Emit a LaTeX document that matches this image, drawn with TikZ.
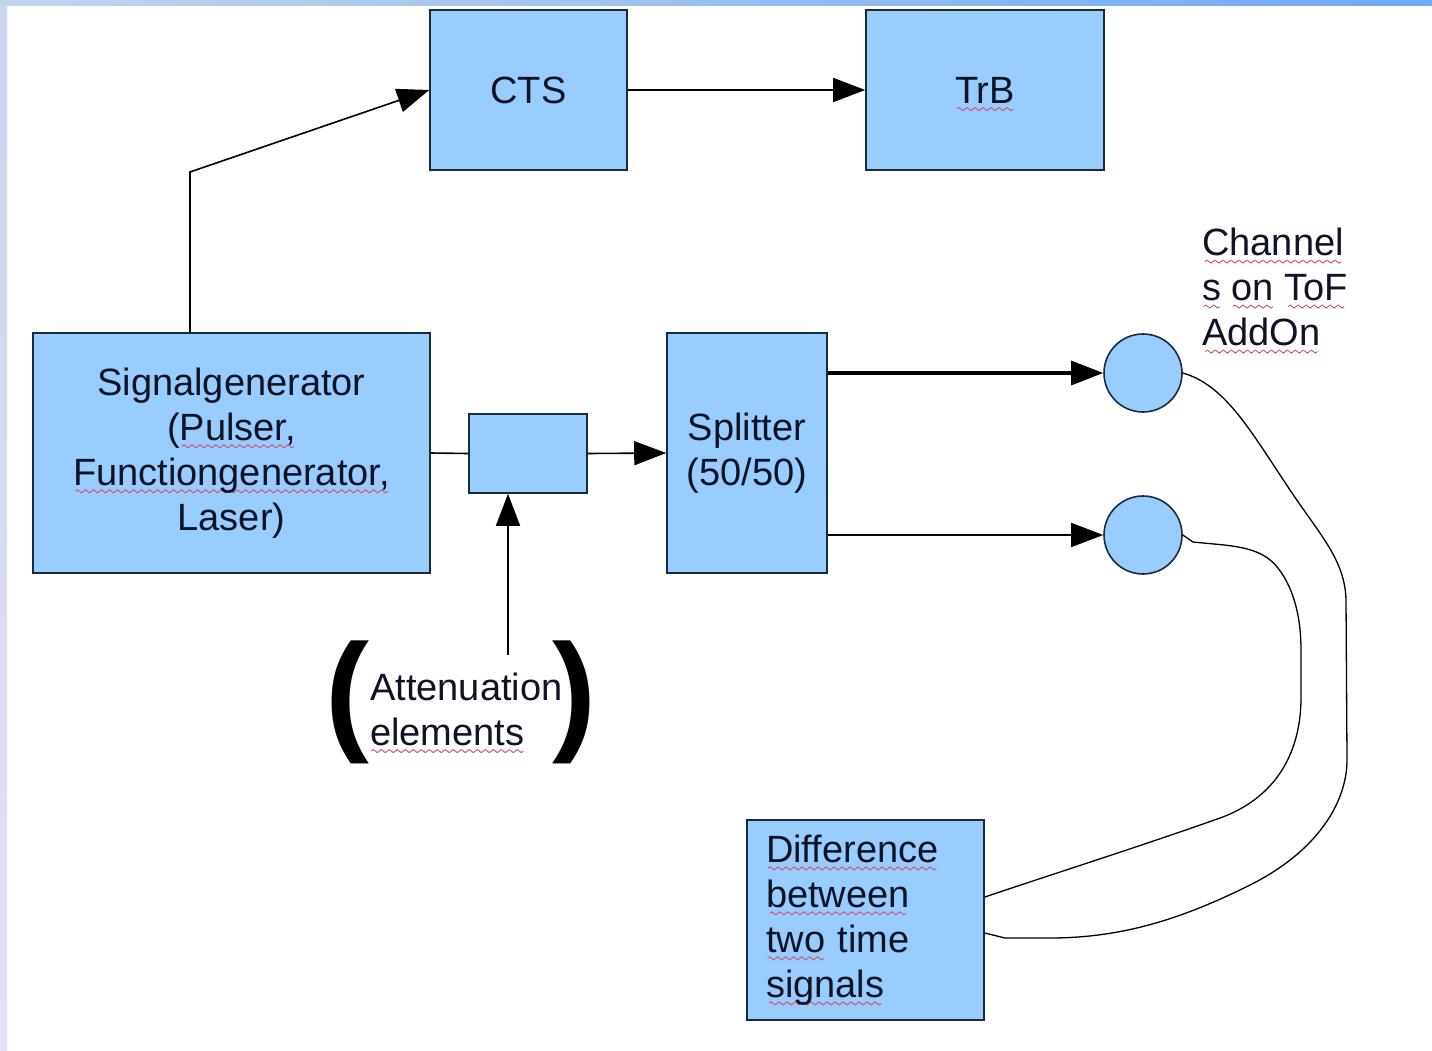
\documentclass[tikz,border=0pt]{standalone}
\usepackage{fontspec}
\setmainfont{Liberation Sans}
\usetikzlibrary{arrows.meta}
\definecolor{boxblue}{HTML}{99CCFF}
\definecolor{edge}{HTML}{1B2A3C}
\definecolor{ink}{HTML}{0E1426}
\definecolor{spell}{HTML}{D0506E}
\definecolor{bandL}{HTML}{C4D4EC}
\definecolor{bandR}{HTML}{6EA8F6}
\definecolor{sideT}{HTML}{C8D6EE}
\definecolor{sideB}{HTML}{E6E1F4}
\newsavebox\sqbox
\newcommand\wavemark{\tikz[baseline=0pt]{\useasboundingbox (0pt,0pt) rectangle (8pt,0pt);\draw[spell,line width=0.9pt] (0pt,-6pt) sin (2pt,-4.5pt) cos (4pt,-6pt) sin (6pt,-7.5pt) cos (8pt,-6pt);}}
\newcommand\sq[1]{\leavevmode\sbox\sqbox{#1}\rlap{\hbox to \wd\sqbox{\cleaders\hbox{\wavemark}\hfill}}\usebox\sqbox}
\begin{document}
\begin{tikzpicture}[x=1pt,y=-1pt,
  box/.style={draw=edge, line width=1.6pt, fill=boxblue, text=ink, font=\fontsize{38}{45}\selectfont, inner sep=0pt, align=center},
  lbl/.style={text=ink, font=\fontsize{38}{45}\selectfont, inner sep=0pt, align=left},
  paren/.style={text=black, font=\bfseries\fontsize{132}{132}\selectfont, inner sep=0pt},
  conn/.style={line width=1.6pt, draw=black},
  arr/.style={conn, -{Triangle[length=32pt,width=24pt]}},
  cable/.style={line width=1.3pt, draw=black}]
\useasboundingbox (0,0) rectangle (1432,1051);
\fill[white] (0,0) rectangle (1432,1051);
\shade[left color=bandL, right color=bandR] (0,0) rectangle (1432,6);
\shade[top color=sideT, bottom color=sideB] (0,6) rectangle (7,1051);

\node[box, minimum width=197, minimum height=160] (cts) at (528.5,90) {CTS};
\node[box, minimum width=238, minimum height=160] (trb) at (985,90) {\sq{TrB}};
\node[box, minimum width=397, minimum height=240] (sig) at (231.5,453) {Signalgenerator\\(\sq{Pulser,}\\\sq{Functiongenerator,}\\Laser)};
\node[box, minimum width=118, minimum height=79] (att) at (528,453.5) {};
\node[box, minimum width=160, minimum height=240] (spl) at (747,453) {Splitter\\(50/50)};
\node[box, circle, minimum size=78] (ch1) at (1143,373) {};
\node[box, circle, minimum size=78] (ch2) at (1143,535) {};
\node[box, minimum width=237, minimum height=200, text width=199, inner xsep=19, align=left] (diff) at (865.5,920) {\sq{Difference}\\\sq{between}\\\sq{two} time\\\sq{signals}};

\node[lbl, anchor=west] (chl) at (1202,287) {\sq{Channel}\\\sq{s} \sq{on} \sq{ToF}\\\sq{AddOn}};
\node[lbl, anchor=west] (attl) at (370,709) {Attenuation\\\sq{elements}};
\node[paren] (lp) at (347,702) {(};
\node[paren] (rp) at (574,702) {)};

\coordinate (bend) at (190,172);
\coordinate (attin) at (508,655);

\draw[arr] (sig.north -| bend) -- (bend) -- (cts.west);
\draw[arr] (cts.east) -- (trb.west);
\draw[conn] (sig.east) -- (att.west);
\draw[arr] (att.east) -- (spl.west);
\draw[arr, line width=3.2pt] (ch1.west -| spl.east) -- (ch1.west);
\draw[arr] (ch2.west -| spl.east) -- (ch2.west);
\draw[arr] (attin) -- (att.south -| attin);

\draw[cable] (ch1.east) .. controls (1225,385) and (1250,430) .. (1290,490)
  .. controls (1320,535) and (1345,560) .. (1346,600)
  -- (1347,760)
  .. controls (1347,800) and (1320,850) .. (1250,885)
  .. controls (1180,920) and (1120,938) .. (1050,938)
  -- (1005,938) -- ([yshift=-13pt]diff.east);
\draw[cable] (ch2.east) -- (1193,542) .. controls (1230,546) and (1260,545) .. (1278,568)
  .. controls (1295,590) and (1301,620) .. (1301,650)
  -- (1301,700)
  .. controls (1300,760) and (1270,800) .. (1220,818)
  .. controls (1150,843) and (1050,875) .. ([yshift=23pt]diff.east);
\end{tikzpicture}
\end{document}
